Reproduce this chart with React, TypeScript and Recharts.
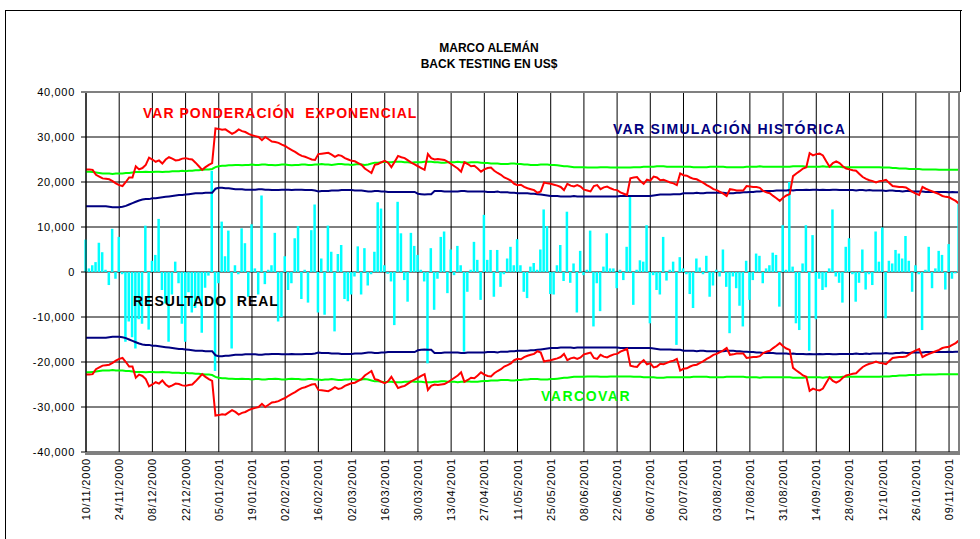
import { ComposedChart, Bar, Line, XAxis, YAxis, CartesianGrid } from 'recharts';

// Fechas rotuladas en el eje (una cada 10 días hábiles)
const fechas = [
  '10/11/2000', '24/11/2000', '08/12/2000', '22/12/2000', '05/01/2001', '19/01/2001', '02/02/2001',
  '16/02/2001', '02/03/2001', '16/03/2001', '30/03/2001', '13/04/2001', '27/04/2001', '11/05/2001',
  '25/05/2001', '08/06/2001', '22/06/2001', '06/07/2001', '20/07/2001', '03/08/2001', '17/08/2001',
  '31/08/2001', '14/09/2001', '28/09/2001', '12/10/2001', '26/10/2001', '09/11/2001',
];
const ticksEje = fechas.map((_, k) => k * 10);

// Resultado real diario (US$)
const resultadoReal = [
  7200, 800, 1500, 2200, 6500, 4400, 500, -2900, 9600, -1500,
  7800, -500, -15500, -11000, -14500, -17000, -10500, -11500, 10300, -12800,
  2500, 3800, 11800, -4000, -7000, -15500, -5000, 2300, -2500, -11500,
  -15500, -4500, -9000, -8000, -5800, -13500, -3500, -800, 22500, -22000,
  -2500, 11200, 3500, 9200, -17000, 1500, -500, 9700, 6400, -5500,
  10600, 800, -5000, 17000, -2700, 500, 1500, 8700, -11000, -10000,
  3500, -4000, -2500, 7500, 10200, -6000, 500, -6800, 9300, 15000,
  -9000, 3000, -9500, 10300, 4500, -13200, 4000, 6000, -6000, -6500,
  -5000, -1000, 5700, -5000, 5300, -3000, -500, 4500, 15500, 14100,
  1500, -400, -2100, -11800, 15600, 8600, -1800, -6600, 8700, 5800,
  3800, 500, -2100, -20300, 5300, -8400, -1500, 7800, 9000, -4700,
  5000, -700, 5800, 1500, -17700, -4400, 500, 6700, 2700, -6200,
  12700, 2700, 4900, -5500, 4900, -3300, -500, 3000, 5600, 1500,
  7300, 1500, -4400, -5800, 1200, 2000, 500, 5000, 13900, 10200,
  -4900, -5000, 1500, 6000, -2000, 13400, -2400, 1900, -9000, 4700,
  -700, 500, 9200, -12100, -2500, -8700, 1200, 8600, 800, 800,
  -3600, 500, -1800, 5600, 16900, -7300, 500, 2600, 2300, 10400,
  -11400, -700, -4000, -5000, 7800, -1900, 500, 2300, -16200, 3300,
  800, -500, -4900, -8000, 3000, 1000, -500, 3600, -5500, -3000,
  500, -1000, 5000, -3300, -13600, -1000, -3600, -7500, -12100, 2500,
  -6200, -1800, 4100, 3600, -2500, 800, 1500, 4300, 3800, -7700,
  10400, 500, 20000, 1200, -11400, -12900, 1900, 10400, -17500, 8200,
  -10500, -1500, -4000, -3400, 800, 13900, -1000, -2400, -6800, 5600,
  7500, -500, -6600, -2400, 5000, -3900, -500, -2900, 9000, 2300,
  9900, -10300, 2500, 1900, 4900, 4100, 3000, 8000, 2500, -4400,
  1500, -500, -12900, 500, 5600, -3600, 800, 4700, 3800, -3900,
  6200, -1500, -300, 15300,
];

// VaR ponderación exponencial (banda simétrica, valor absoluto)
const varPonderacion = [
  22800, 22800, 22700, 21600, 21200, 20800, 20700, 20600, 20200, 19700,
  19300, 19100, 20000, 21000, 21000, 23500, 22800, 23100, 23800, 25400,
  25000, 24500, 24800, 24100, 25000, 25500, 25200, 24800, 24900, 25200,
  25300, 25100, 25000, 24300, 23500, 22700, 23300, 23800, 24200, 31900,
  31800, 31600, 31700, 31200, 30700, 31100, 31700, 31300, 31100, 30700,
  30400, 30200, 30000, 29300, 30000, 29500, 29000, 28900, 28700, 28300,
  28000, 27500, 27100, 26700, 26200, 25800, 25600, 25300, 25000, 24900,
  26200, 26300, 26400, 26500, 26100, 25600, 26000, 25800, 25300, 25000,
  24700, 24600, 24200, 23800, 23000, 22500, 22000, 23800, 24000, 24400,
  24700, 24300, 23300, 24500, 25800, 25500, 25300, 24800, 24300, 23900,
  23500, 23100, 22700, 26200, 25300, 25000, 25100, 25000, 24900, 24500,
  24000, 23500, 23000, 22300, 24400, 24000, 23500, 23600, 23000, 22300,
  22800, 23100, 23200, 22500, 22000, 21600, 21000, 20700, 20300, 19600,
  19300, 19400, 18900, 18600, 18400, 18200, 17600, 17900, 19900, 19700,
  19600, 19400, 19200, 18900, 18200, 19600, 19200, 19000, 19300, 19000,
  18300, 18100, 17900, 19100, 19300, 18400, 18800, 19000, 18600, 18300,
  18200, 17700, 17400, 17100, 20800, 21000, 21100, 20200, 19600, 20500,
  20300, 21200, 21000, 20400, 20500, 20200, 19900, 19700, 19300, 21900,
  21500, 21400, 21000, 20700, 20600, 20200, 19800, 19300, 18900, 18400,
  18200, 17800, 17400, 16900, 18400, 18300, 18100, 18100, 18100, 19100,
  19000, 18900, 18900, 18700, 18000, 17700, 17500, 16900, 16400, 15800,
  16500, 17000, 17300, 21300, 21900, 22400, 23000, 23300, 26400, 25900,
  26200, 26300, 25900, 24600, 23400, 24200, 24600, 24200, 23500, 23000,
  22800, 22600, 22500, 21800, 21100, 20700, 20400, 20200, 19900, 20200,
  20300, 20500, 19800, 19100, 19000, 18900, 18900, 18800, 18300, 17800,
  17400, 17100, 18900, 18500, 18200, 17900, 17600, 17300, 16900, 16700,
  16600, 16200, 15800, 15200,
];

// VaR simulación histórica
const varSimulacion = [
  14600, 14600, 14600, 14600, 14600, 14600, 14600, 14500, 14400, 14400,
  14400, 14500, 14700, 15000, 15300, 15600, 15900, 16100, 16200, 16200,
  16400, 16400, 16500, 16600, 16700, 16800, 16900, 17000, 17100, 17100,
  17200, 17300, 17400, 17500, 17500, 17500, 17600, 17600, 17600, 18500,
  18700, 18700, 18600, 18600, 18500, 18400, 18400, 18400, 18300, 18300,
  18300, 18300, 18400, 18400, 18300, 18300, 18200, 18200, 18200, 18300,
  18300, 18300, 18200, 18300, 18300, 18300, 18200, 18200, 18200, 18100,
  17900, 18000, 18000, 18000, 18100, 18100, 18100, 18200, 18200, 18200,
  18200, 18100, 18100, 18100, 18000, 17900, 17900, 18000, 18000, 17900,
  17900, 17800, 17800, 17800, 17800, 17800, 17800, 17800, 17800, 17800,
  17400, 17300, 17200, 17300, 17300, 18000, 18000, 18000, 17900, 17900,
  17900, 17900, 17900, 18000, 18000, 17900, 17900, 17900, 17900, 17900,
  17900, 17800, 17800, 17800, 17900, 17700, 17700, 17700, 17600, 17600,
  17500, 17500, 17500, 17500, 17400, 17400, 17300, 17200, 17100, 17000,
  16900, 16900, 16900, 16800, 16800, 16800, 16800, 16900, 16800, 16800,
  16800, 16800, 16800, 16800, 16800, 16800, 16800, 16800, 16800, 16800,
  16800, 16900, 16900, 16900, 16900, 16900, 16900, 16900, 16900, 16900,
  16900, 17000, 17100, 17200, 17200, 17200, 17200, 17300, 17300, 17300,
  17500, 17500, 17500, 17500, 17600, 17500, 17500, 17600, 17600, 17600,
  17600, 17600, 17600, 17500, 17500, 17500, 17600, 17600, 17700, 17700,
  17800, 17800, 17900, 17900, 18000, 18000, 18000, 18000, 18100, 18100,
  18100, 18100, 18200, 18100, 18200, 18200, 18200, 18300, 18200, 18300,
  18300, 18200, 18300, 18200, 18200, 18300, 18300, 18200, 18200, 18200,
  18200, 18200, 18100, 18200, 18200, 18100, 18200, 18100, 18100, 18100,
  18100, 18000, 18100, 18100, 18000, 18000, 17900, 18000, 18000, 17900,
  17900, 17900, 17900, 17800, 17800, 17800, 17800, 17800, 17800, 17800,
  17700, 17800, 17700, 17700,
];

// VaR varianza-covarianza
const varCovar = [
  22300, 22300, 22200, 22100, 22000, 21900, 21900, 21900, 21800, 21900,
  21900, 21900, 22000, 22000, 22100, 22200, 22200, 22200, 22300, 22200,
  22200, 22300, 22300, 22200, 22300, 22300, 22400, 22400, 22400, 22500,
  22400, 22500, 22500, 22600, 22600, 22700, 22800, 22800, 22900, 23300,
  23500, 23600, 23600, 23700, 23700, 23800, 23800, 23700, 23800, 23800,
  23900, 23800, 23800, 23900, 23900, 23800, 23800, 23700, 23800, 23900,
  23900, 23800, 23700, 23800, 23800, 23900, 23900, 23800, 23800, 23900,
  23900, 24000, 23900, 23900, 23800, 23900, 24000, 24000, 23900, 23900,
  23800, 23900, 24000, 23900, 23800, 23900, 24100, 24300, 24300, 24400,
  24500, 24400, 24400, 24500, 24500, 24500, 24400, 24400, 24300, 24400,
  24400, 24400, 24500, 24500, 24500, 24400, 24400, 24300, 24300, 24400,
  24400, 24400, 24500, 24400, 24400, 24300, 24400, 24400, 24400, 24300,
  24200, 24200, 24100, 24100, 24100, 24000, 24000, 24000, 24100, 24100,
  24000, 24000, 23900, 23900, 23800, 23800, 23800, 23900, 23900, 23900,
  23800, 23800, 23700, 23600, 23500, 23500, 23400, 23300, 23300, 23300,
  23300, 23200, 23200, 23200, 23200, 23300, 23300, 23300, 23200, 23200,
  23200, 23200, 23200, 23200, 23200, 23300, 23300, 23300, 23400, 23400,
  23400, 23400, 23500, 23500, 23500, 23400, 23400, 23400, 23400, 23400,
  23400, 23400, 23400, 23300, 23300, 23300, 23300, 23300, 23400, 23400,
  23400, 23400, 23400, 23300, 23300, 23300, 23300, 23300, 23300, 23400,
  23400, 23400, 23400, 23500, 23400, 23400, 23400, 23400, 23400, 23400,
  23400, 23400, 23400, 23500, 23500, 23500, 23500, 23400, 23400, 23400,
  23400, 23400, 23500, 23400, 23400, 23400, 23400, 23400, 23300, 23300,
  23300, 23300, 23300, 23300, 23300, 23300, 23300, 23300, 23300, 23300,
  23200, 23200, 23200, 23100, 23100, 23000, 23000, 23000, 22900, 22900,
  22900, 22900, 22800, 22800, 22800, 22800, 22800, 22700, 22700, 22700,
  22700, 22700, 22700, 22700,
];

// Las bandas de VaR son simétricas respecto de cero
const data = resultadoReal.map((real, i) => ({
  i,
  real,
  ponderacionSup: varPonderacion[i],
  ponderacionInf: -varPonderacion[i],
  simulacionSup: varSimulacion[i],
  simulacionInf: -varSimulacion[i],
  covarSup: varCovar[i],
  covarInf: -varCovar[i],
}));

const FONT = '"Liberation Sans", Arial, sans-serif';

const YTick = ({ x, y, payload }: any) => (
  <text x={x - 4} y={y} dy={4} textAnchor="end" fontFamily={FONT} fontSize={11} letterSpacing={0.7} fill="#000">
    {payload.value.toLocaleString('en-US')}
  </text>
);

const XTick = ({ x, payload }: any) => (
  <text
    x={0}
    y={0}
    transform={`translate(${x + 4},458) rotate(-90)`}
    textAnchor="end"
    fontFamily={FONT}
    fontSize={11}
    letterSpacing={0.8}
    fill="#000"
  >
    {fechas[payload.value / 10]}
  </text>
);

const label = (text: string, left: number, top: number, color: string, spacing = 1) => (
  <div
    style={{
      position: 'absolute',
      left,
      top,
      color,
      fontFamily: FONT,
      fontWeight: 'bold',
      fontSize: 14,
      lineHeight: '14px',
      letterSpacing: spacing,
      whiteSpace: 'pre',
    }}
  >
    {text}
  </div>
);

export default function App() {
  return (
    <div style={{ position: 'absolute', left: 0, top: 0, width: 980, height: 539, background: '#fff', overflow: 'hidden' }}>
      {/* marco del gráfico */}
      <div style={{ position: 'absolute', left: 5, top: 10, width: 956, height: 600, borderTop: '1px solid #000', borderLeft: '1px solid #000' }} />
      <div style={{ position: 'absolute', left: 960, top: 10, width: 1, height: 82, background: '#000' }} />

      <div style={{ position: 'absolute', left: 0, top: 40, width: 978, textAlign: 'center', fontFamily: FONT, fontWeight: 'bold', fontSize: 12, lineHeight: '16px' }}>
        MARCO ALEMÁN
        <br />
        BACK TESTING EN US$
      </div>

      <div style={{ position: 'absolute', left: 0, top: 0 }}>
        <ComposedChart width={980} height={539} data={data} margin={{ top: 92, right: 21, bottom: 0, left: 0 }}>
          <CartesianGrid stroke="#000" strokeWidth={1} fill="none" />
          <XAxis
            dataKey="i"
            type="number"
            domain={[0, 263]}
            ticks={ticksEje}
            interval={0}
            height={87}
            tickLine={false}
            axisLine={false}
            tick={<XTick />}
          />
          <YAxis
            type="number"
            domain={[-40000, 40000]}
            ticks={[-40000, -30000, -20000, -10000, 0, 10000, 20000, 30000, 40000]}
            width={86}
            tickSize={5}
            tickLine={{ stroke: '#000' }}
            axisLine={{ stroke: '#000' }}
            tick={<YTick />}
          />
          <Bar dataKey="real" fill="#00ffff" barSize={2.5} isAnimationActive={false} />
          <Line dataKey="covarSup" stroke="#00ff00" strokeWidth={2} dot={false} isAnimationActive={false} />
          <Line dataKey="covarInf" stroke="#00ff00" strokeWidth={2} dot={false} isAnimationActive={false} />
          <Line dataKey="simulacionSup" stroke="#000080" strokeWidth={2} dot={false} isAnimationActive={false} />
          <Line dataKey="simulacionInf" stroke="#000080" strokeWidth={2} dot={false} isAnimationActive={false} />
          <Line dataKey="ponderacionSup" stroke="#ff0000" strokeWidth={2} dot={false} isAnimationActive={false} />
          <Line dataKey="ponderacionInf" stroke="#ff0000" strokeWidth={2} dot={false} isAnimationActive={false} />
        </ComposedChart>
      </div>

      {/* borde gris del área de trazado */}
      <div style={{ position: 'absolute', left: 85, top: 91, width: 873, height: 360, borderTop: '2px solid #808080', borderRight: '2px solid #808080', borderBottom: '2px solid #808080' }} />

      {label('VAR PONDERACIÓN  EXPONENCIAL', 143, 106, '#ff0000')}
      {label('VAR SIMULACIÓN HISTÓRICA', 613, 122, '#000080', 1.3)}
      {label('RESULTADO  REAL', 133, 294, '#000')}
      {label('VARCOVAR', 541, 389, '#00ff00', 1.5)}
    </div>
  );
}
